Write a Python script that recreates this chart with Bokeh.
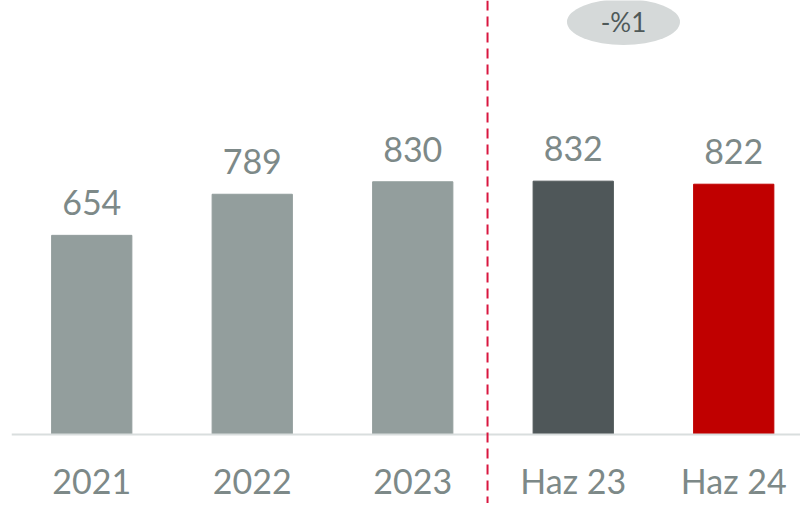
from bokeh.plotting import figure
from bokeh.models import Range1d, LinearAxis, FixedTicker, Span, ColumnDataSource, LabelSet, Label
from bokeh.core.properties import value
from bokeh.embed import file_html
from bokeh.resources import INLINE

categories = ["2021", "2022", "2023", "Haz 23", "Haz 24"]
values = [654, 789, 830, 832, 822]
bar_colors = ["#939e9d", "#939e9d", "#939e9d", "#4f5759", "#c00000"]
change_label = "-%1"

FONT = "Lato"
TXT = "#7d8988"

x = list(range(len(categories)))
src = ColumnDataSource(dict(x=x, top=values, color=bar_colors,
                            label=[str(v) for v in values]))

p = figure(width=800, height=503, output_backend="svg", toolbar_location=None,
           x_range=Range1d(-0.5, 4.416), y_range=Range1d(-226.6, 1425.3),
           min_border_left=11, min_border_right=0, min_border_top=0, min_border_bottom=0,
           x_axis_type=None, y_axis_type=None)
p.outline_line_color = None
p.xgrid.visible = False
p.ygrid.visible = False

p.vbar(x="x", top="top", bottom=0, width=0.5, color="color", source=src)

labels = LabelSet(x="x", y="top", text="label", source=src, y_offset=20,
                  text_align="center", text_baseline="alphabetic",
                  text_font=value(FONT), text_font_size="34px", text_color=TXT)
p.add_layout(labels)

ax = LinearAxis(fixed_location=0)
ax.ticker = FixedTicker(ticks=x)
ax.major_label_overrides = {i: c for i, c in enumerate(categories)}
ax.axis_line_color = "#d9dede"
ax.axis_line_width = 2
ax.major_tick_line_color = None
ax.minor_tick_line_color = None
ax.major_label_standoff = 19
ax.major_label_text_font = FONT
ax.major_label_text_font_size = "34px"
ax.major_label_text_color = TXT
p.add_layout(ax, "below")

p.add_layout(Span(location=2.466, dimension="height", line_color="#d9163f",
                  line_width=2, line_dash="10 6"))

p.ellipse(x=[3.313], y=[1355], width=[113], height=[46], width_units="screen",
          height_units="screen", fill_color="#d5d9d9", line_color=None)
p.add_layout(Label(x=3.313, y=1355, text=change_label, text_align="center",
                   text_baseline="middle", text_font=FONT, text_font_size="26px",
                   text_color="#4f5959"))

open("out.html", "w").write(file_html(p, INLINE))
